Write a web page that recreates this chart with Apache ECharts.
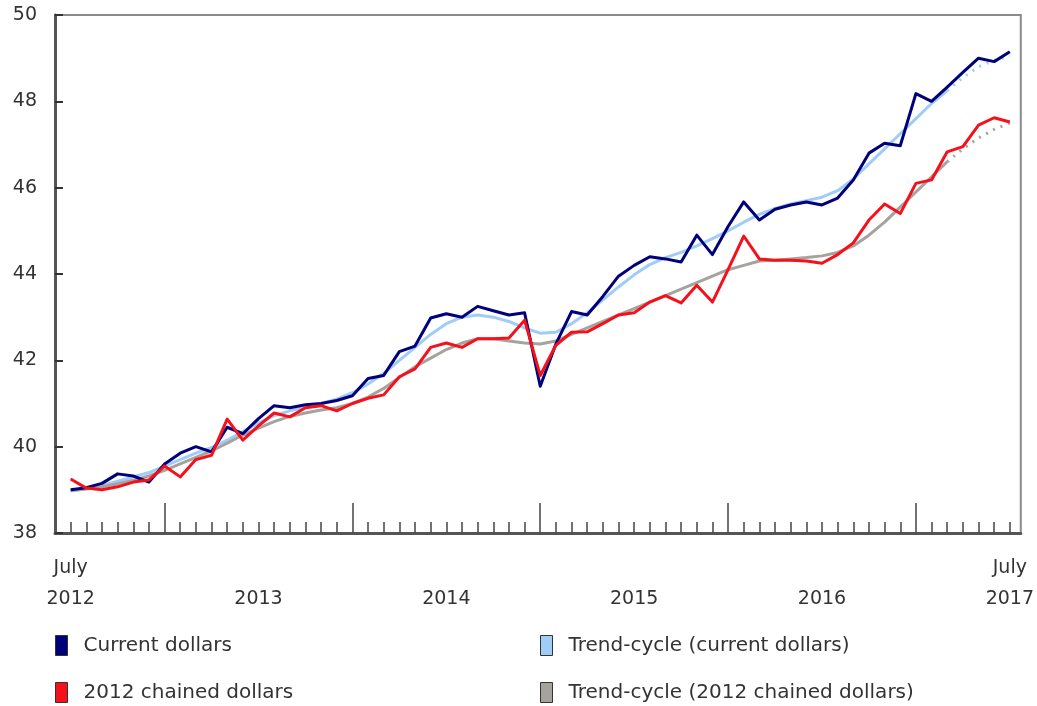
<!DOCTYPE html>
<html>
<head>
<meta charset="utf-8">
<script src="https://cdn.jsdelivr.net/npm/echarts@6/dist/echarts.min.js"></script>
<style>
html,body{margin:0;padding:0;background:#fff;}
#chart{width:1037px;height:706px;}
</style>
</head>
<body>
<div id="chart"></div>
<script>
// Monthly index 0 = July 2012 ... 60 = July 2017
const monthLabel = 'July';
const yearLabels = ['2012', '2013', '2014', '2015', '2016', '2017'];
const yTicks = [38, 40, 42, 44, 46, 48, 50];

const currentDollars = [
  39.0, 39.05, 39.15, 39.37, 39.32, 39.18, 39.6, 39.85, 40.0, 39.88,
  40.45, 40.3, 40.65, 40.95, 40.9, 40.97, 41.0, 41.07, 41.18, 41.58,
  41.65, 42.2, 42.33, 42.98, 43.08, 43.0, 43.25, 43.15, 43.05, 43.1,
  41.4, 42.38, 43.13, 43.05, 43.48, 43.95, 44.2, 44.4, 44.35, 44.28,
  44.9, 44.45, 45.1, 45.67, 45.25, 45.5, 45.6, 45.67, 45.6, 45.76,
  46.18, 46.8, 47.03, 46.97, 48.18, 48.0, 48.33, 48.67, 49.0, 48.92, 49.15
];
const trendCurrent = [
  38.98, 39.03, 39.1, 39.2, 39.3, 39.4, 39.55, 39.7, 39.85, 39.98,
  40.15, 40.35, 40.55, 40.72, 40.83, 40.92, 41.0, 41.1, 41.25, 41.45,
  41.7, 42.0, 42.3, 42.6, 42.85, 43.0, 43.05, 43.0, 42.9, 42.75,
  42.63, 42.65, 42.85, 43.1, 43.4, 43.7, 43.98, 44.22, 44.38, 44.5,
  44.65, 44.82, 45.0, 45.2, 45.38, 45.52, 45.62, 45.7, 45.78, 45.93,
  46.2, 46.55, 46.9, 47.25, 47.6, 47.95, 48.25, 48.55, 48.8, 48.95, 49.05
];
const chainedDollars = [
  39.25, 39.04, 39.0, 39.07, 39.18, 39.23, 39.55, 39.3, 39.7, 39.8,
  40.64, 40.15, 40.48, 40.78, 40.69, 40.9, 40.95, 40.83, 41.0, 41.12,
  41.2, 41.62, 41.8, 42.3, 42.4, 42.3, 42.5, 42.5, 42.52, 42.93,
  41.65, 42.35, 42.65, 42.66, 42.85, 43.05, 43.1, 43.35, 43.5, 43.33,
  43.74, 43.35, 44.1, 44.88, 44.35, 44.32, 44.32, 44.3, 44.25, 44.45,
  44.72, 45.25, 45.62, 45.4, 46.1, 46.18, 46.83, 46.95, 47.45, 47.62, 47.52
];
const trendChained = [
  38.98, 39.02, 39.07, 39.14, 39.22, 39.32, 39.45, 39.6, 39.75, 39.9,
  40.08, 40.27, 40.43, 40.58, 40.7, 40.78, 40.85, 40.9, 41.0, 41.15,
  41.35, 41.6, 41.85, 42.05, 42.25, 42.4, 42.5, 42.5, 42.45, 42.4,
  42.38, 42.45, 42.6, 42.75, 42.9, 43.05, 43.2, 43.35, 43.5, 43.65,
  43.8, 43.95, 44.1, 44.2, 44.3, 44.32, 44.35, 44.38, 44.42, 44.5,
  44.65, 44.9, 45.2, 45.55, 45.9, 46.25, 46.6, 46.9, 47.15, 47.35, 47.5
];
const dottedFrom = 56; // trend-cycle shown dotted for the most recent months

const names = {
  cur: 'Current dollars',
  trendCur: 'Trend-cycle (current dollars)',
  ch: '2012 chained dollars',
  trendCh: 'Trend-cycle (2012 chained dollars)'
};
const colors = {
  cur: '#00007a',
  trendCur: '#9fcdf7',
  ch: '#f5101a',
  trendCh: '#a6a39f'
};

const toPts = arr => arr.map((v, i) => [i, v]);
const solidPart = arr => arr.map((v, i) => [i, i <= dottedFrom ? v : null]);
const dottedPart = arr => arr.map((v, i) => [i, i >= dottedFrom ? v : null]);

const minorTicks = currentDollars.map((v, i) => i);
const majorTicks = [6, 18, 30, 42, 54];
const labelTicks = yearLabels.map((y, k) => k * 12);

const FONT = 'DejaVu Sans';
const chart = echarts.init(document.getElementById('chart'), null, {renderer: 'canvas'});

function lineSeries(key, data, width, z, dotted) {
  return {
    name: names[key], type: 'line', data: data, xAxisIndex: 0, yAxisIndex: 0,
    showSymbol: false, symbol: 'none', smooth: false, connectNulls: false,
    z: z, animation: false,
    itemStyle: {color: colors[key]},
    lineStyle: {color: colors[key], width: width, type: dotted ? [2, 6] : 'solid', join: 'round'},
    emphasis: {disabled: true}
  };
}

function legendAt(name, left, top) {
  return {
    left: left, top: top, data: [name],
    orient: 'horizontal', itemWidth: 12, itemHeight: 20, icon: 'rect', padding: 0,
    itemStyle: {borderColor: '#333', borderWidth: 1},
    textStyle: {fontFamily: FONT, fontSize: 20, color: '#333', padding: [0, 0, 0, 11]},
    selectedMode: false
  };
}

chart.setOption({
  animation: false,
  backgroundColor: '#fff',
  grid: {left: 55, right: 16, top: 15, bottom: 173, show: true, borderColor: '#8a8a8a', borderWidth: 2, backgroundColor: 'transparent'},
  legend: [
    legendAt(names.cur, 55, 635),
    legendAt(names.trendCur, 540, 635),
    legendAt(names.ch, 55, 682),
    legendAt(names.trendCh, 540, 682)
  ],
  xAxis: [
    {
      type: 'value', min: -1, max: 60.7, position: 'bottom',
      axisLine: {show: true, onZero: false, lineStyle: {color: '#555', width: 3}},
      axisTick: {show: true, inside: true, length: 11, customValues: minorTicks, lineStyle: {color: '#444', width: 1.5}},
      axisLabel: {
        show: true, customValues: labelTicks, margin: 20,
        fontFamily: FONT, fontSize: 19, color: '#333', lineHeight: 31,
        formatter: function (v) {
          const k = Math.round(v / 12);
          if (k === 0 || k === yearLabels.length - 1) return monthLabel + '\n' + yearLabels[k];
          return '\n' + yearLabels[k];
        }
      },
      splitLine: {show: false}
    },
    {
      type: 'value', min: -1, max: 60.7, position: 'bottom',
      axisLine: {show: false, onZero: false},
      axisTick: {show: true, inside: true, length: 30, customValues: majorTicks, lineStyle: {color: '#444', width: 1.5}},
      axisLabel: {show: false},
      splitLine: {show: false}
    }
  ],
  yAxis: {
    type: 'value', min: 38, max: 50, interval: 2,
    axisLine: {show: true, onZero: false, lineStyle: {color: '#555', width: 3}},
    axisTick: {show: true, inside: true, length: 8, lineStyle: {color: '#333', width: 2}},
    axisLabel: {fontFamily: FONT, fontSize: 19, color: '#333', margin: 18,
      formatter: v => yTicks.indexOf(v) >= 0 ? String(v) : ''},
    splitLine: {show: false}
  },
  series: [
    lineSeries('trendCur', solidPart(trendCurrent), 3, 2, false),
    lineSeries('trendCur', dottedPart(trendCurrent), 3, 2, true),
    lineSeries('trendCh', solidPart(trendChained), 3, 2, false),
    lineSeries('trendCh', dottedPart(trendChained), 3, 2, true),
    lineSeries('cur', toPts(currentDollars), 3, 3, false),
    lineSeries('ch', toPts(chainedDollars), 3, 4, false)
  ]
});
</script>
</body>
</html>
